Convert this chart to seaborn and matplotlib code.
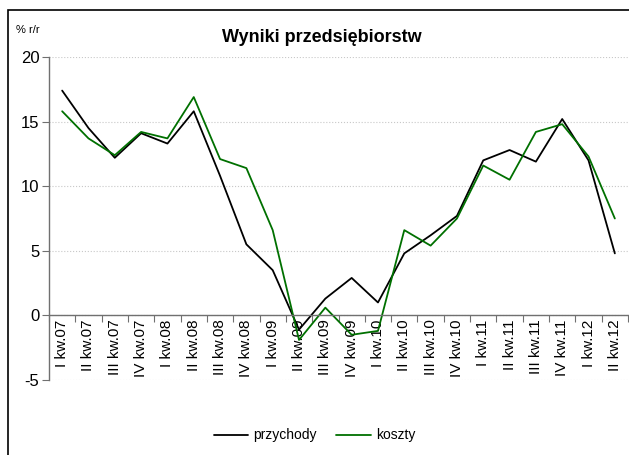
import pandas as pd
import matplotlib.pyplot as plt
import seaborn as sns
from matplotlib.patches import Rectangle
from matplotlib.ticker import FixedLocator, MultipleLocator

# quarters on the x axis
quarters = ['I kw.07', 'II kw.07', 'III kw.07', 'IV kw.07',
            'I kw.08', 'II kw.08', 'III kw.08', 'IV kw.08',
            'I kw.09', 'II kw.09', 'III kw.09', 'IV kw.09',
            'I kw.10', 'II kw.10', 'III kw.10', 'IV kw.10',
            'I kw.11', 'II kw.11', 'III kw.11', 'IV kw.11',
            'I kw.12', 'II kw.12']

# % r/r values
przychody = [17.4, 14.5, 12.2, 14.1, 13.3, 15.8, 10.8, 5.5, 3.5, -1.1, 1.3,
             2.9, 1.0, 4.8, 6.2, 7.7, 12.0, 12.8, 11.9, 15.2, 12.0, 4.8]
koszty = [15.8, 13.7, 12.4, 14.2, 13.7, 16.9, 12.1, 11.4, 6.6, -1.9, 0.6,
          -1.5, -1.2, 6.6, 5.4, 7.5, 11.6, 10.5, 14.2, 14.8, 12.3, 7.5]

series_names = ['przychody', 'koszty']
series_colors = {'przychody': '#000000', 'koszty': '#007000'}

df = pd.DataFrame({
    'pos': list(range(len(quarters))) * 2,
    'value': przychody + koszty,
    'seria': ['przychody'] * len(quarters) + ['koszty'] * len(quarters),
})

sns.set_style('white')
plt.rcParams['font.family'] = ['Liberation Sans', 'DejaVu Sans']
plt.rcParams['axes.unicode_minus'] = False
plt.rcParams['text.color'] = 'black'
plt.rcParams['xtick.color'] = 'black'
plt.rcParams['ytick.color'] = 'black'

fig = plt.figure(figsize=(6.29, 4.55), dpi=100)
ax = fig.add_axes([49 / 629, 1 - 380 / 455, 579 / 629, 323 / 455])

sns.lineplot(data=df, x='pos', y='value', hue='seria', hue_order=series_names,
             palette=series_colors, linewidth=1.3, sort=False, ax=ax)

ax.set_xlim(-0.5, len(quarters) - 0.5)
ax.set_ylim(-5, 20)
ax.yaxis.set_major_locator(MultipleLocator(5))
ax.grid(axis='y', color='#c8c8c8', linestyle=':', linewidth=0.8)
ax.set_axisbelow(True)

# x axis sits on the zero line, ticks between categories
for s in ['top', 'right']:
    ax.spines[s].set_visible(False)
ax.spines['bottom'].set_position(('data', 0))
ax.spines['bottom'].set_color('#707070')
ax.spines['left'].set_color('#707070')
ax.spines['bottom'].set_linewidth(1.0)
ax.spines['left'].set_linewidth(1.0)

ax.xaxis.set_major_locator(FixedLocator([i - 0.5 for i in range(len(quarters) + 1)]))
ax.xaxis.set_minor_locator(FixedLocator(range(len(quarters))))
ax.set_xticklabels([], minor=False)
ax.set_xticklabels(quarters, minor=True, rotation=90, fontsize=11)
ax.tick_params(axis='x', which='major', direction='out', length=5, color='#707070', bottom=True)
ax.tick_params(axis='x', which='minor', length=0, pad=3, bottom=True, labelcolor='black')
ax.tick_params(axis='y', direction='out', length=5, color='#707070', left=True, labelsize=12,
               pad=2, labelcolor='black')

ax.set_xlabel('')
ax.set_ylabel('')

leg = ax.legend(loc='upper center', bbox_to_anchor=(0.5, 1 - 416 / 455), bbox_transform=fig.transFigure,
                ncol=2, frameon=False, fontsize=10, handlelength=2.5, handletextpad=0.35,
                columnspacing=1.4)
for h in leg.get_lines():
    h.set_linewidth(1.3)
for t in leg.get_texts():
    t.set_color('black')

fig.text(322 / 629, 1 - 37 / 455, 'Wyniki przedsiębiorstw', ha='center', va='center',
         fontsize=13, fontweight='bold', color='black')
fig.text(16 / 629, 1 - 30 / 455, '% r/r', ha='left', va='center', fontsize=8, color='black')

# outer frame of the chart
fig.add_artist(Rectangle((8 / 629, -0.1), 1.2, 1 - 10 / 455 + 0.1, transform=fig.transFigure,
                         fill=False, edgecolor='black', linewidth=1.2))

fig.savefig('out.png', dpi=100)
